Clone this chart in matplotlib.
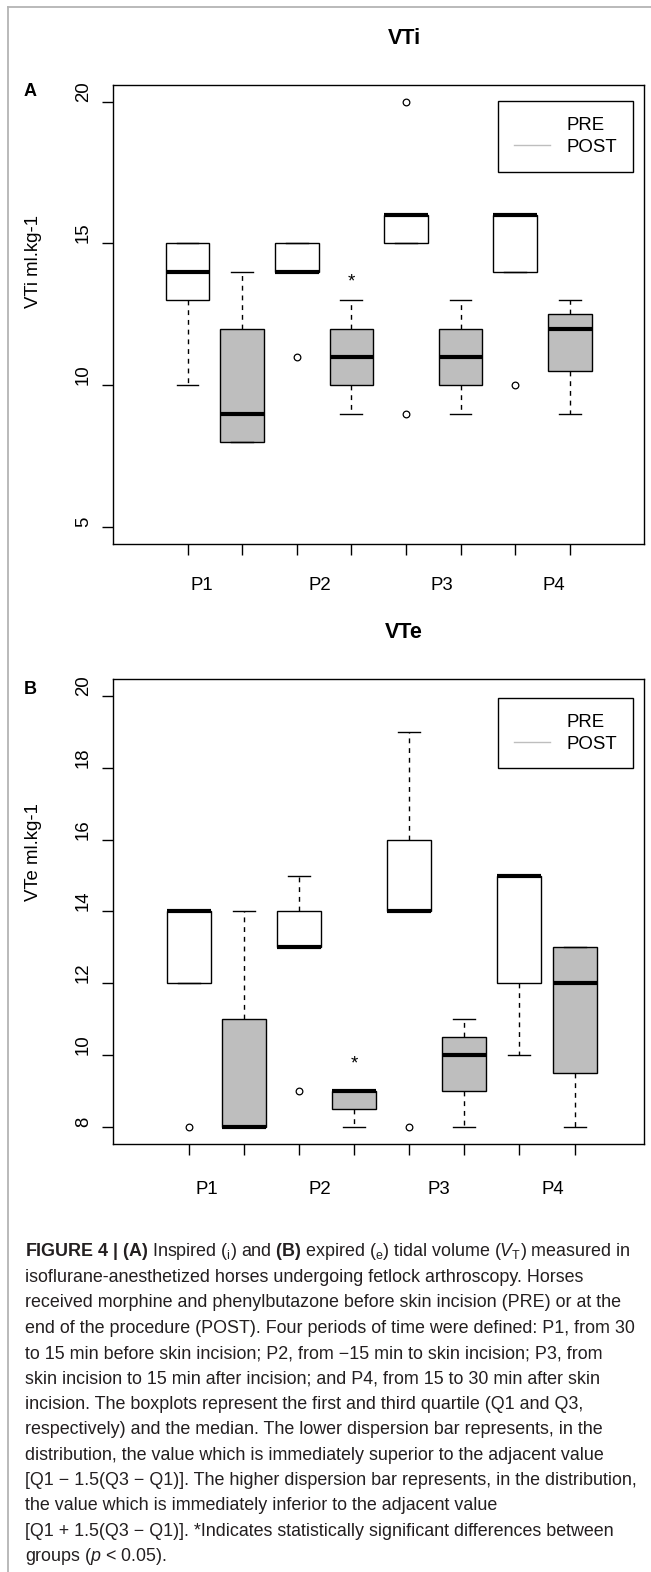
import matplotlib.pyplot as plt
from matplotlib.lines import Line2D

plt.rcParams['font.family'] = ['Liberation Sans', 'DejaVu Sans']
plt.rcParams['mathtext.fontset'] = 'custom'
plt.rcParams['mathtext.rm'] = 'Liberation Sans'
plt.rcParams['mathtext.it'] = 'Liberation Sans:italic'
plt.rcParams['mathtext.bf'] = 'Liberation Sans:bold'

W, H = 651, 1572

periods = ['P1', 'P2', 'P3', 'P4']
groups = ['PRE', 'POST']

# box order: P1 PRE, P1 POST, P2 PRE, P2 POST, ...
# (A) VTi
vti_q1 = [13, 8, 14, 10, 15, 10, 14, 10.5]
vti_med = [14, 9, 14, 11, 16, 11, 16, 12]
vti_q3 = [15, 12, 15, 12, 16, 12, 16, 12.5]
vti_lo = [10, 8, 14, 9, 15, 9, 14, 9]
vti_hi = [15, 14, 15, 13, 16, 13, 16, 13]
vti_out = [[], [], [11], [], [20, 9], [], [10], []]
vti_sig_x = [4]
vti_sig_y = [13.86]

# (B) VTe
vte_q1 = [12, 8, 13, 8.5, 14, 9, 12, 9.5]
vte_med = [14, 8, 13, 9, 14, 10, 15, 12]
vte_q3 = [14, 11, 14, 9, 16, 10.5, 15, 13]
vte_lo = [12, 8, 13, 8, 14, 8, 10, 8]
vte_hi = [14, 14, 15, 9, 19, 11, 15, 13]
vte_out = [[8], [], [9], [], [8], [], [], []]
vte_sig_x = [4]
vte_sig_y = [9.92]

caption = [
    r"$\mathbf{FIGURE\ 4\ |\ (A)}$ Inspired ($_\mathregular{i}$) and $\mathbf{(B)}$ expired ($_\mathregular{e}$) tidal volume ($\mathit{V}_\mathregular{T}$) measured in",
    "isoflurane-anesthetized horses undergoing fetlock arthroscopy. Horses",
    "received morphine and phenylbutazone before skin incision (PRE) or at the",
    "end of the procedure (POST). Four periods of time were defined: P1, from 30",
    "to 15 min before skin incision; P2, from \u221215 min to skin incision; P3, from",
    "skin incision to 15 min after incision; and P4, from 15 to 30 min after skin",
    "incision. The boxplots represent the first and third quartile (Q1 and Q3,",
    "respectively) and the median. The lower dispersion bar represents, in the",
    "distribution, the value which is immediately superior to the adjacent value",
    "[Q1 \u2212 1.5(Q3 \u2212 Q1)]. The higher dispersion bar represents, in the distribution,",
    "the value which is immediately inferior to the adjacent value",
    "[Q1 + 1.5(Q3 \u2212 Q1)]. *Indicates statistically significant differences between",
    r"groups ($\mathit{p}$ < 0.05).",
]


def fx(px):
    return px / W


def fy(py):
    return 1 - py / H


fig = plt.figure(figsize=(W / 100, H / 100), dpi=100)

# light grey frame (left and top)
fig.add_artist(Line2D([fx(7.7), fx(7.7)], [0, fy(7)], color='#b4b4b4', lw=1.3))
fig.add_artist(Line2D([fx(7.7), 1], [fy(7), fy(7)], color='#b4b4b4', lw=1.3))


def panel(top, bottom, q1, med, q3, lo, hi, out, sig_x, sig_y,
          ylim, xlim, yticks, leg_top):
    ax = fig.add_axes([fx(113.3), fy(bottom), fx(644) - fx(113.3), (bottom - top) / H])
    stats = []
    for a, m, b, l, h, f in zip(q1, med, q3, lo, hi, out):
        stats.append(dict(q1=a, med=m, q3=b, whislo=l, whishi=h, fliers=f))
    bp = ax.bxp(stats, positions=range(1, 9), widths=0.8, patch_artist=True,
                capwidths=0.4,
                boxprops=dict(edgecolor='black', linewidth=1.0),
                whiskerprops=dict(color='black', linewidth=1.0, linestyle=(0, (3.5, 3.5))),
                capprops=dict(color='black', linewidth=1.0),
                medianprops=dict(color='black', linewidth=3.0, solid_capstyle='butt'),
                flierprops=dict(marker='o', markerfacecolor='none', markeredgecolor='black',
                                markersize=4.8, markeredgewidth=0.9))
    for i, box in enumerate(bp['boxes']):
        box.set_facecolor('white' if i % 2 == 0 else '#bebebe')
    for x, y in zip(sig_x, sig_y):
        ax.annotate('*', (x, y), xytext=(0, -7.7), textcoords='offset points',
                    ha='center', va='baseline', fontsize=13.4)
    ax.set_xlim(*xlim)
    ax.set_ylim(*ylim)
    ax.set_xticks(range(1, 9), labels=[''] * 8)
    ax.set_yticks(yticks, labels=[str(t) for t in yticks], rotation=90, va='bottom')
    ax.tick_params(length=7.9, width=1.0, labelsize=13.4, pad=7.5)
    for s in ax.spines.values():
        s.set_linewidth(1.0)
    handles = [Line2D([], [], color='white', lw=1.0), Line2D([], [], color='#bebebe', lw=1.0)]
    leg = ax.legend(handles, groups, loc='upper right',
                    bbox_to_anchor=((633 - 113.3) / 530.7, 1 - (leg_top - top) / (bottom - top)),
                    fontsize=13.4, fancybox=False, edgecolor='black', framealpha=1,
                    handlelength=1.93, handletextpad=0.91, borderpad=0.85,
                    labelspacing=0.25, borderaxespad=0)
    leg.get_frame().set_linewidth(1.0)
    return ax


panel(84.7, 544, vti_q1, vti_med, vti_q3, vti_lo, vti_hi, vti_out, vti_sig_x, vti_sig_y,
      (4.4, 20.6), (-0.36, 9.36), [5, 10, 15, 20], 101.3)
panel(679, 1144, vte_q1, vte_med, vte_q3, vte_lo, vte_hi, vte_out, vte_sig_x, vte_sig_y,
      (7.52, 20.48), (-0.37, 9.26), [8, 10, 12, 14, 16, 18, 20], 698)

# titles, panel letters, y labels, period labels
fig.text(fx(404), fy(39), 'VTi', fontsize=15.5, fontweight='bold', ha='center', va='center')
fig.text(fx(404), fy(633), 'VTe', fontsize=15.5, fontweight='bold', ha='center', va='center')
fig.text(fx(30), fy(91.7), 'A', fontsize=13, fontweight='bold', ha='center', va='center')
fig.text(fx(30), fy(689.3), 'B', fontsize=13, fontweight='bold', ha='center', va='center')
fig.text(fx(33), fy(262), 'VTi ml.kg-1', fontsize=13.4, rotation=90, ha='center', va='center')
fig.text(fx(33), fy(852), 'VTe ml.kg-1', fontsize=13.4, rotation=90, ha='center', va='center')
for p, x in zip(periods, [201.7, 319.6, 441.7, 554.3]):
    fig.text(fx(x), fy(585.7), p, fontsize=13.4, ha='center', va='center')
for p, x in zip(periods, [206.7, 320, 439.3, 552.7]):
    fig.text(fx(x), fy(1190), p, fontsize=13.4, ha='center', va='center')

# caption
for i, line in enumerate(caption):
    fig.text(fx(25), fy(1252 + i * 25.4), line, fontsize=12.9, color='#231f20',
             ha='left', va='center')

fig.savefig('out.png', dpi=100)
